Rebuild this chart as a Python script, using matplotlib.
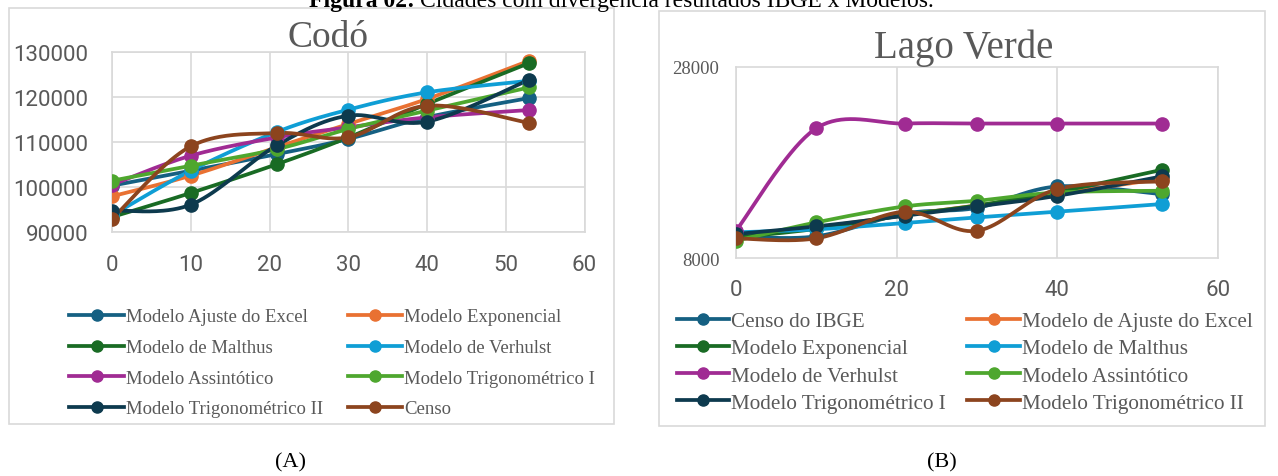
import numpy as np
import matplotlib
matplotlib.use("Agg")
import matplotlib.pyplot as plt
from matplotlib.patches import Rectangle

# years since first census
anos = [0, 10, 21, 30, 40, 53]

# (A) Codó
codo_series = ["Modelo Ajuste do Excel", "Modelo Exponencial", "Modelo de Malthus",
               "Modelo de Verhulst", "Modelo Assintótico", "Modelo Trigonométrico I",
               "Modelo Trigonométrico II", "Censo"]
codo_ajuste = [100300, 103600, 107330, 110670, 115500, 119780]
codo_expon = [97930, 102520, 108900, 114000, 119560, 128070]
codo_malthus = [93330, 98670, 105110, 111000, 118440, 127560]
codo_verhulst = [93700, 103630, 112290, 117180, 121040, 123600]
codo_assint = [100500, 106960, 111040, 113260, 115480, 117110]
codo_trig1 = [101400, 104740, 108440, 112890, 116960, 122150]
codo_trig2 = [94740, 96070, 109330, 115850, 114520, 123850]
codo_censo = [92900, 109040, 112000, 111040, 118070, 114220]

# (B) Lago Verde
lago_series = ["Censo do IBGE", "Modelo de Ajuste do Excel", "Modelo Exponencial",
               "Modelo de Malthus", "Modelo de Verhulst", "Modelo Assintótico",
               "Modelo Trigonométrico I", "Modelo Trigonométrico II"]
lago_censo = [10270, 10270, 12650, 13250, 15490, 14690]
lago_ajuste = [10300, 11200, 12500, 13500, 14700, 16300]
lago_expon = [10150, 11050, 12500, 13500, 14900, 17230]
lago_malthus = [10690, 11000, 11660, 12250, 12840, 13650]
lago_verhulst = [10850, 21590, 22080, 22080, 22080, 22080]
lago_assint = [9810, 11730, 13400, 13990, 14860, 15040]
lago_trig1 = [10510, 11310, 12420, 13400, 14510, 16540]
lago_trig2 = [10060, 10060, 12840, 10850, 15210, 16020]

cores = ["#156082", "#E97132", "#196B24", "#0F9ED5", "#A02B93", "#4EA72E", "#0D3A4E", "#8C441E"]
cinza = "#595959"
grade = "#d9d9d9"
serif = "Liberation Serif"
sans = "Roboto"

W, H = 1278, 477


def suaviza(x, y, n=40):
    # excel-like smoothed line (cubic bezier, catmull-rom control points)
    x = np.asarray(x, float)
    y = np.asarray(y, float)
    xs, ys = [], []
    t = np.linspace(0, 1, n)
    for i in range(len(x) - 1):
        i0 = max(i - 1, 0)
        i3 = min(i + 2, len(x) - 1)
        c1x = x[i] + (x[i + 1] - x[i0]) / 6
        c1y = y[i] + (y[i + 1] - y[i0]) / 6
        c2x = x[i + 1] - (x[i3] - x[i]) / 6
        c2y = y[i + 1] - (y[i3] - y[i]) / 6
        b0, b1, b2, b3 = (1 - t) ** 3, 3 * (1 - t) ** 2 * t, 3 * (1 - t) * t ** 2, t ** 3
        xs.append(b0 * x[i] + b1 * c1x + b2 * c2x + b3 * x[i + 1])
        ys.append(b0 * y[i] + b1 * c1y + b2 * c2y + b3 * y[i + 1])
    return np.concatenate(xs), np.concatenate(ys)


def px_axes(fig, left, top, right, bottom):
    return fig.add_axes([left / W, 1 - bottom / H, (right - left) / W, (bottom - top) / H])


def row_order(handles, labels):
    # excel fills legend row by row, matplotlib column by column
    idx = list(range(0, len(handles), 2)) + list(range(1, len(handles), 2))
    return [handles[i] for i in idx], [labels[i] for i in idx]


fig = plt.figure(figsize=(W / 100, H / 100), dpi=100)

# outer chart frames
for (l, t, r, b) in [(9, 9, 614, 425), (659, 12, 1265, 427)]:
    fig.patches.append(Rectangle((l / W, 1 - b / H), (r - l) / W, (b - t) / H,
                                 transform=fig.transFigure, fill=False,
                                 edgecolor=grade, linewidth=1.2))

# ---- (A) Codó ----
ax1 = px_axes(fig, 112, 53, 584.5, 233)
dados_a = [codo_ajuste, codo_expon, codo_malthus, codo_verhulst,
           codo_assint, codo_trig1, codo_trig2, codo_censo]
hs = []
for vals, nome, cor in zip(dados_a, codo_series, cores):
    sx, sy = suaviza(anos, vals)
    ax1.plot(sx, sy, color=cor, lw=2.7, zorder=3)
    ax1.plot(anos, vals, 'o', color=cor, ms=9.5, zorder=4)
    h, = ax1.plot([], [], '-o', color=cor, lw=2.7, ms=8, label=nome)
    hs.append(h)
ax1.set_xlim(0, 60)
ax1.set_ylim(90000, 130000)
ax1.set_xticks(range(0, 61, 10))
ax1.set_yticks(range(90000, 130001, 10000))
ax1.grid(True, color=grade, lw=1.2)
ax1.set_axisbelow(True)
for s in ax1.spines.values():
    s.set_color(grade)
    s.set_linewidth(1.2)
ax1.tick_params(length=0, labelsize=16, labelcolor=cinza)
ax1.tick_params(axis='x', pad=16)
ax1.tick_params(axis='y', pad=17)
for lb in ax1.get_xticklabels() + ax1.get_yticklabels():
    lb.set_family(sans)
fig.text(328 / W, 1 - 38 / H, "Codó", ha='center', va='center', family=serif,
         fontsize=27, color=cinza)

h1, l1 = row_order(hs, codo_series)
leg1 = fig.legend(h1, l1, ncol=2, loc='upper left', bbox_to_anchor=(60 / W, 1 - 300 / H),
                  frameon=False, borderpad=0, handlelength=2.9, handletextpad=0.1,
                  columnspacing=1.35, labelspacing=0.72,
                  prop={'family': serif, 'size': 13.5})
for tx in leg1.get_texts():
    tx.set_color(cinza)

# ---- (B) Lago Verde ----
ax2 = px_axes(fig, 736, 68, 1218, 259)
dados_b = [lago_censo, lago_ajuste, lago_expon, lago_malthus,
           lago_verhulst, lago_assint, lago_trig1, lago_trig2]
hs = []
for vals, nome, cor in zip(dados_b, lago_series, cores):
    sx, sy = suaviza(anos, vals)
    ax2.plot(sx, sy, color=cor, lw=2.7, zorder=3)
    ax2.plot(anos, vals, 'o', color=cor, ms=9.5, zorder=4)
    h, = ax2.plot([], [], '-o', color=cor, lw=2.7, ms=8, label=nome)
    hs.append(h)
ax2.set_xlim(0, 60)
ax2.set_ylim(8000, 28000)
ax2.set_xticks([0, 20, 40, 60])
ax2.set_yticks([8000, 28000])
ax2.grid(True, axis='x', color=grade, lw=1.2)
ax2.set_axisbelow(True)
for s in ax2.spines.values():
    s.set_color(grade)
    s.set_linewidth(1.2)
ax2.tick_params(length=0, labelcolor=cinza)
ax2.tick_params(axis='x', pad=15, labelsize=16)
ax2.tick_params(axis='y', pad=12, labelsize=13.5)
for lb in ax2.get_xticklabels():
    lb.set_family(sans)
for lb in ax2.get_yticklabels():
    lb.set_family(serif)
fig.text(964 / W, 1 - 48 / H, "Lago Verde", ha='center', va='center', family=serif,
         fontsize=28, color=cinza)

h2, l2 = row_order(hs, lago_series)
leg2 = fig.legend(h2, l2, ncol=2, loc='upper left', bbox_to_anchor=(666 / W, 1 - 302 / H),
                  frameon=False, borderpad=0, handlelength=2.5, handletextpad=0.1,
                  columnspacing=1.0, labelspacing=0.35,
                  prop={'family': serif, 'size': 15.2})
for tx in leg2.get_texts():
    tx.set_color(cinza)

# panel labels
fig.text(290 / W, 1 - 463 / H, "(A)", ha='center', va='center', family=serif, fontsize=16)
fig.text(942 / W, 1 - 463 / H, "(B)", ha='center', va='center', family=serif, fontsize=16)

# caption, cut at the top edge as in the source page
r = fig.canvas.get_renderer()
t1 = fig.text(309 / W, 1 - 7 / H, "Figura 02:", ha='left', va='baseline', family=serif,
              fontsize=17, fontweight='bold')
bb = t1.get_window_extent(renderer=r)
fig.text((bb.x1 + 5) / W, 1 - 7 / H, "Cidades com divergência resultados IBGE x Modelos.",
         ha='left', va='baseline', family=serif, fontsize=17)

fig.savefig("out.png", dpi=100)
